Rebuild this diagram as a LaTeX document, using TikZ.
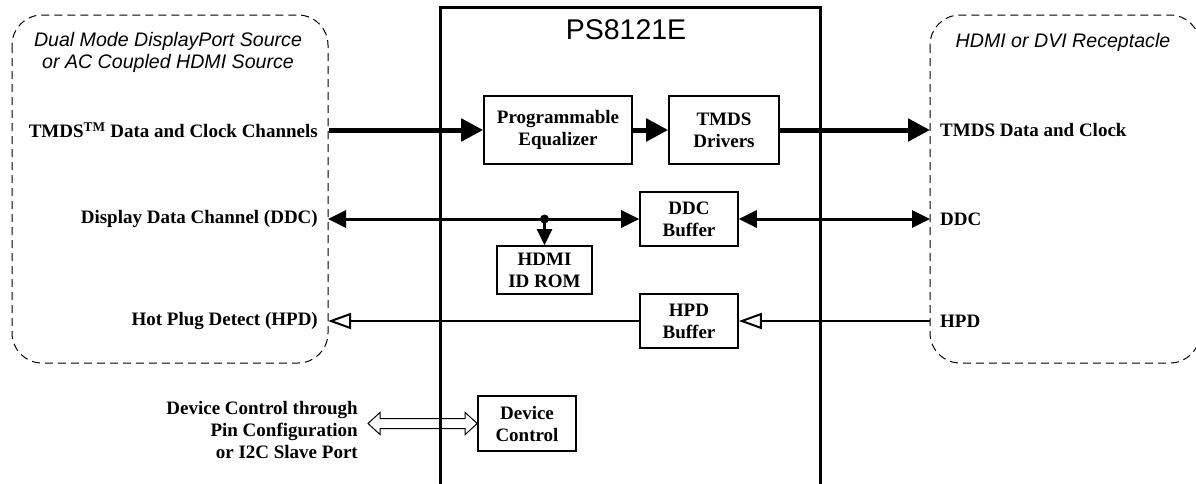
\documentclass[tikz,border=0pt]{standalone}
\usepackage{fontspec}
\setmainfont{Liberation Serif}
\newfontfamily\sansfam{Liberation Sans}
\usetikzlibrary{arrows.meta,calc}
\begin{document}
\begin{tikzpicture}[x=1pt,y=-1pt,
  blk/.style={draw, line width=1.6pt, align=center, inner sep=0pt, font=\bfseries\fontsize{19}{22}\selectfont},
  lbl/.style={inner sep=0pt, font=\bfseries\fontsize{19}{22}\selectfont},
  region/.style={draw, dash pattern=on 8pt off 5pt, line width=1pt, rounded corners=30pt},
  itl/.style={inner sep=0pt, align=center, font=\sansfam\itshape\fontsize{19.6}{22}\selectfont},
  bus/.style={line width=5pt},
  ddcline/.style={line width=3pt},
  hpdline/.style={line width=2pt},
  bigtip/.tip={Triangle[length=22pt,width=22pt]},
  midtip/.tip={Triangle[length=18pt,width=17pt]},
  smalltip/.tip={Triangle[length=16pt,width=15pt]},
  opentip/.tip={Triangle[open,length=23pt,width=16pt]}
]
\useasboundingbox (0,0) rectangle (1196,483);

% regions
\draw[region] (12,15) rectangle (328,363);
\draw[region] (930,15) rectangle (1200,363);
\node[itl] (srct) at (168,52) {Dual Mode DisplayPort Source\\or AC Coupled HDMI Source};
\node[itl] (rcvt) at (1063,42) {HDMI or DVI Receptacle};

% chip
\draw[line width=3pt] (440,495) -- (440,7) -- (820,7) -- (820,495);
\node[inner sep=0pt, font=\sansfam\fontsize{28.5}{32}\selectfont] (chip) at (626,30) {PS8121E};

% blocks
\node[blk, minimum width=148pt, minimum height=68pt] (pe) at (558,130) {Programmable\\Equalizer};
\node[blk, minimum width=110pt, minimum height=68pt] (td) at (724,130) {TMDS\\Drivers};
\node[blk, minimum width=98pt, minimum height=54pt] (db) at (689,219) {DDC\\Buffer};
\node[blk, minimum width=95pt, minimum height=48pt] (rom) at (544.5,270) {HDMI\\ID ROM};
\node[blk, minimum width=98pt, minimum height=54pt] (hb) at (689,321) {HPD\\Buffer};
\node[blk, minimum width=98pt, minimum height=55pt] (dc) at (527,423.5) {Device\\Control};

% labels
\node[lbl, anchor=east] (l1) at (318,130) {TMDS\textsuperscript{TM} Data and Clock Channels};
\node[lbl, anchor=east] (l2) at (318,219) {Display Data Channel (DDC)};
\node[lbl, anchor=east] (l3) at (318,321) {Hot Plug Detect (HPD)};
\node[lbl, anchor=west] (r1) at (940,130) {TMDS Data and Clock};
\node[lbl, anchor=west] (r2) at (940,219) {DDC};
\node[lbl, anchor=west] (r3) at (940,321) {HPD};
\node[lbl, anchor=east, align=right] (l4) at (358,430) {Device Control through\\Pin Configuration\\or I2C Slave Port};

% coordinates
\coordinate (tl) at (329,130);
\coordinate (tr) at (930,130);
\coordinate (dl) at (328,219);
\coordinate (dr) at (930,219);
\coordinate (j) at (544.5,219);
\coordinate (hl) at (328,321);
\coordinate (hr) at (930,321);
\coordinate (cl) at (368,423.5);

% TMDS
\draw[bus, -{bigtip}] (tl) -- (pe.west);
\draw[bus, -{bigtip}] (pe.east) -- (td.west);
\draw[bus, -{bigtip}] (td.east) -- (tr);

% DDC
\draw[ddcline, {midtip}-{midtip}] (dl) -- (db.west);
\draw[ddcline, {midtip}-{midtip}] (db.east) -- (dr);
\fill (j) circle (4.5pt);
\draw[line width=2.5pt, -{smalltip}] (j) -- (rom.north);

% HPD
\draw[hpdline, -{opentip}] (hr) -- (hb.east);
\draw[hpdline, -{opentip}] (hb.west) -- (hl);

% device control hollow double arrow
\draw[line width=1pt, line join=miter]
  (cl) -- ($(cl)+(12,-11)$) -- ($(cl)+(12,-5)$) -- ($(dc.west)+(-12,-5)$) -- ($(dc.west)+(-12,-11)$)
  -- (dc.west) -- ($(dc.west)+(-12,11)$) -- ($(dc.west)+(-12,5)$) -- ($(cl)+(12,5)$) -- ($(cl)+(12,11)$) -- cycle;
\end{tikzpicture}
\end{document}
